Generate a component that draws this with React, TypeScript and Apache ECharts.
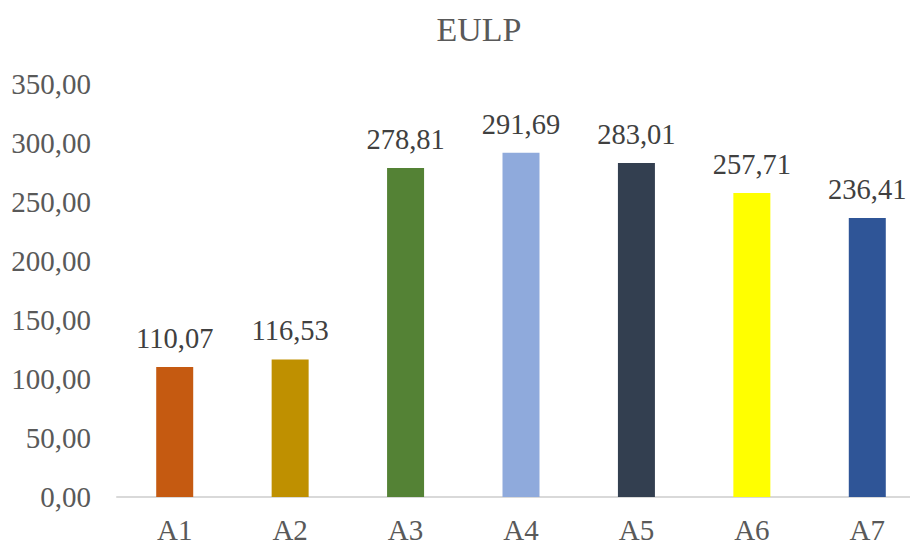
import React, { useEffect, useRef } from "react";
import * as echarts from "echarts";

const categories = ["A1", "A2", "A3", "A4", "A5", "A6", "A7"];
const values = [110.07, 116.53, 278.81, 291.69, 283.01, 257.71, 236.41];
const barColors = ["#C55A11", "#BF9000", "#548235", "#8FAADC", "#333F50", "#FFFF00", "#2F5597"];
const titleText = "EULP";

const fmt = (v: number) => v.toFixed(2).replace(".", ",");

export default function App() {
  const ref = useRef<HTMLDivElement>(null);
  useEffect(() => {
    if (!ref.current) return;
    const chart = echarts.init(ref.current, null, { renderer: "svg" });
    const font = "'Liberation Serif', 'Times New Roman', serif";
    chart.setOption({
      animation: false,
      backgroundColor: "#ffffff",
      title: {
        text: titleText,
        left: 474,
        textAlign: "center",
        top: 7,
        textStyle: { fontFamily: font, fontSize: 34, fontWeight: "normal", color: "#595959" },
      },
      grid: {
        left: 117,
        top: 84,
        width: 808,
        height: 413,
        containLabel: false,
        outerBoundsMode: "none",
      },
      xAxis: {
        type: "category",
        data: categories,
        axisLine: { show: true, lineStyle: { color: "#D9D9D9", width: 2 } },
        axisTick: { show: false },
        axisLabel: {
          fontFamily: font,
          fontSize: 29,
          lineHeight: 22,
          color: "#595959",
          margin: 22,
        },
        splitLine: { show: false },
      },
      yAxis: {
        type: "value",
        min: 0,
        max: 350,
        interval: 50,
        axisLine: { show: false },
        axisTick: { show: false },
        splitLine: { show: false },
        axisLabel: {
          fontFamily: font,
          fontSize: 29,
          color: "#595959",
          margin: 26,
          formatter: (v: number) => fmt(v),
        },
      },
      series: [
        {
          type: "bar",
          barWidth: 37,
          data: values.map((v, i) => ({ value: v, itemStyle: { color: barColors[i] } })),
          label: {
            show: true,
            position: "top",
            distance: 14,
            fontFamily: font,
            fontSize: 28.5,
            color: "#404040",
            formatter: (p: any) => fmt(p.value),
          },
        },
      ],
    });
    return () => chart.dispose();
  }, []);
  return (
    <div
      ref={ref}
      style={{ position: "absolute", left: 0, top: 0, width: 910, height: 541, overflow: "hidden" }}
    />
  );
}
